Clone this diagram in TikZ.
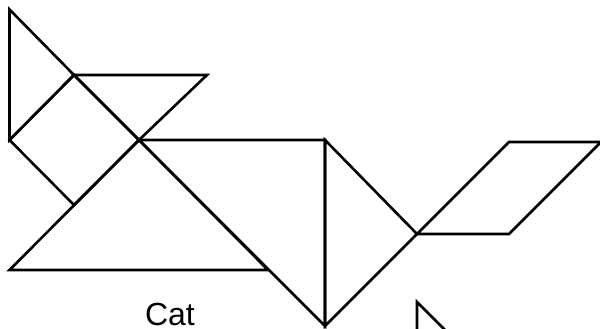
\documentclass[tikz,border=0pt]{standalone}
\usepackage{fontspec}
\setmainfont{Liberation Sans}
\begin{document}
\begin{tikzpicture}[x=1pt,y=-1pt,
  piece/.style={draw=black,line width=2.6pt,line join=miter}]
\useasboundingbox (0,0) rectangle (600,329);
\clip (0,0) rectangle (600,329);
% head: left ear triangle
\draw[piece] (9.5,9.5) -- (9.5,140) -- (74,75) -- cycle;
% right ear triangle
\draw[piece] (74,75) -- (207,75) -- (139,140) -- cycle;
% square (face)
\draw[piece] (9.5,140) -- (74,75) -- (139,140) -- (74,205) -- cycle;
% large triangle (body front)
\draw[piece] (9.5,270) -- (268,270) -- (139,140) -- cycle;
% large triangle (body back)
\draw[piece] (139,140) -- (325,140) -- (325,326) -- cycle;
% medium triangle
\draw[piece] (325,140) -- (417,234) -- (325,326) -- cycle;
% tail parallelogram
\draw[piece] (417,234) -- (509,142) -- (601,142) -- (509,234) -- cycle;
% partial triangle at bottom
\draw[piece] (417,400) -- (417,302) -- (515,400);
\node[font=\fontsize{32}{38}\selectfont,anchor=base,inner sep=0pt] (label) at (170,325) {Cat};
\end{tikzpicture}
\end{document}
